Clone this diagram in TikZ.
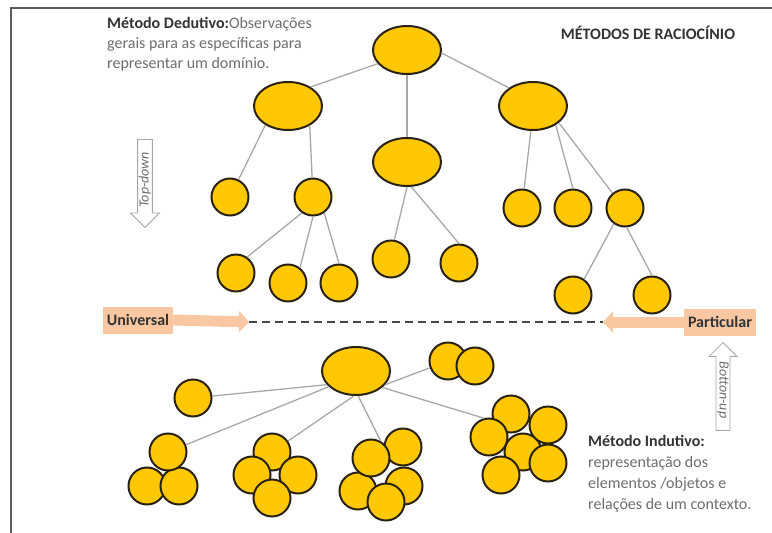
\documentclass[tikz,border=0pt]{standalone}
\usepackage{fontspec}
\setmainfont{Carlito}
\usetikzlibrary{arrows.meta,shapes.geometric,shapes.arrows}
\definecolor{ouro}{HTML}{FFC800}
\definecolor{borda}{HTML}{2A2212}
\definecolor{linha}{HTML}{A8A8A8}
\definecolor{pessego}{HTML}{F9C7A1}
\definecolor{texto}{HTML}{6E6E6E}
\definecolor{escuro}{HTML}{333333}

\begin{document}
\begin{tikzpicture}[x=1pt,y=-1pt,
  font=\fontsize{16}{20}\selectfont,
  no/.style={ellipse,draw=borda,fill=ouro,line width=2pt,minimum width=68pt,minimum height=48pt,inner sep=0pt},
  bola/.style={circle,draw=borda,fill=ouro,line width=2pt,minimum size=37pt,inner sep=0pt},
  ligacao/.style={draw=linha,line width=1.3pt},
  caixa/.style={fill=pessego,text=escuro,font=\fontsize{16}{20}\selectfont\bfseries,minimum height=27pt,inner xsep=4pt},
  seta/.style={pessego,line width=11pt,-{Triangle[length=10pt,width=21pt]}},
  vazada/.style={single arrow,draw=gray!70,line width=0.8pt,fill=white,text=texto,
    font=\fontsize{14}{16}\selectfont\itshape,inner sep=1pt,single arrow head extend=7pt,
    shape border rotate=180,minimum height=88pt,anchor=tip}]

\useasboundingbox (0,0) rectangle (772,533);

%frame
\draw[line width=1.3pt,escuro!80] (11,533) -- (11,8) -- (772,8);

%texts
\node[font=\fontsize{16}{20}\selectfont\bfseries,text=escuro] (titulo) at (648,33) {MÉTODOS DE RACIOCÍNIO};
\node[anchor=north west,align=left,inner sep=0pt,text=texto] (dedutivo) at (107,17)
  {\textcolor{escuro}{\bfseries Método Dedutivo:}Observações\\gerais para as específicas para\\representar um domínio.};
\node[anchor=north west,align=left,inner sep=0pt,text=texto,font=\fontsize{16}{21}\selectfont] (indutivo) at (588,435)
  {\textcolor{escuro}{\bfseries Método Indutivo:}\\representação dos\\elementos /objetos e\\relações de um contexto.};

%top-down / bottom-up
\node[vazada,rotate=90] (desce) at (145,228) {Top-down};
\node[vazada,rotate=-90] (sobe) at (723,342) {Botton-up};

%universal - particular
\node[caixa] (uni) at (138,320) {Universal};
\node[caixa] (par) at (720,322) {Particular};
\coordinate (unitip) at (249,322);
\coordinate (partip) at (603,322);
\draw[seta] (uni.east) -- (unitip);
\draw[seta] (par.west) -- (partip);
\draw[escuro!90,line width=2pt,dash pattern=on 8pt off 5pt] (unitip) -- (partip);

%deductive tree
\node[no] (r) at (407,50) {};
\node[no] (a) at (288,106) {};
\node[no] (b) at (407,162) {};
\node[no] (c) at (533,106) {};
\foreach \n/\x/\y in {a1/230/197, a2/313/197, a21/236/273, a22/288/283, a23/339/283,
    b1/391/259, b2/459/263, c1/522/208, c2/573/208, c3/625/208, c31/573/295, c32/652/295}
  \node[bola] (\n) at (\x,\y) {};

\foreach \p/\q in {r.205/a.40, r.south/b.north, r.-5/c.143, a.220/a1, a.-42/a2,
    a2.235/a21.55, a2.south/a22.52, a2.-55/a23.north, b.270/b1.80, b.-80/b2.north,
    c.265/c1, c.-40/c2.north, c.-33/c3.130, c3.235/c31.55, c3.-85/c32.north}
  \draw[ligacao] (\p) -- (\q);

%inductive groups
\node[no] (i) at (356,371) {};
\foreach \n/\x/\y in {solo/193/398, p1/448/361, p2/475/366,
    g1a/147/486, g1b/179/486, g1c/168/452,
    g2c/272/452, g2a/252/475, g2b/298/475, g2d/272/498,
    g3a/403/447, g3b/404/486, g3c/358/491, g3d/371/458, g3e/386/502,
    g4m/523/452, g4a/511/414, g4b/548/425, g4c/489/437, g4d/548/463, g4e/501/475}
  \node[bola] (\n) at (\x,\y) {};

\foreach \q/\p in {i.205/solo, i.210/g1c, i.265/g2c, i.275/g3d.60, i.-25/p1, i.-32/g4c.105}
  \draw[ligacao] (\q) -- (\p);

\end{tikzpicture}
\end{document}
